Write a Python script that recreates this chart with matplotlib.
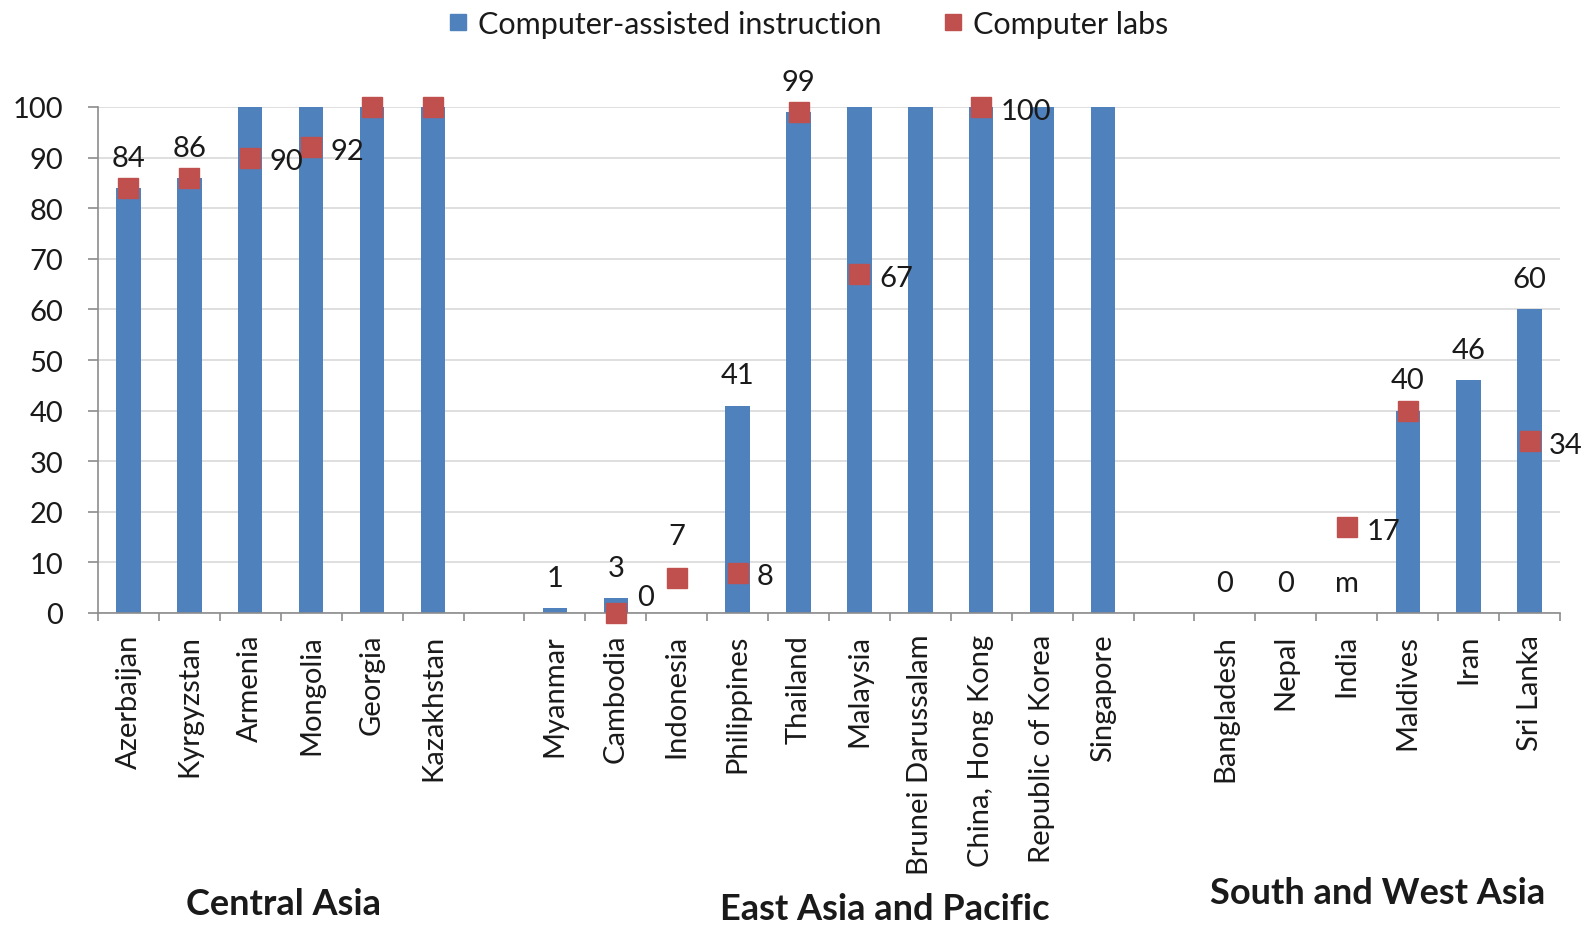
import numpy as np
import matplotlib
matplotlib.use("Agg")
import matplotlib.pyplot as plt
from matplotlib.lines import Line2D

plt.rcParams["font.family"] = ["Lato", "DejaVu Sans"]

# Countries, with an empty slot between regions
countries = ["Azerbaijan", "Kyrgyzstan", "Armenia", "Mongolia", "Georgia", "Kazakhstan",
             "",
             "Myanmar", "Cambodia", "Indonesia", "Philippines", "Thailand", "Malaysia",
             "Brunei Darussalam", "China, Hong Kong", "Republic of Korea", "Singapore",
             "",
             "Bangladesh", "Nepal", "India", "Maldives", "Iran", "Sri Lanka"]

nan = np.nan
# Share of schools with computer-assisted instruction (%)
cai = [84, 86, 100, 100, 100, 100,
       nan,
       1, 3, nan, 41, 99, 100, 100, 100, 100, 100,
       nan,
       0, 0, nan, 40, 46, 60]
# Share of schools with computer labs (%)
labs = [84, 86, 90, 92, 100, 100,
        nan,
        nan, 0, 7, 8, 99, 67, nan, 100, nan, nan,
        nan,
        nan, nan, 17, 40, nan, 34]

# Value labels shown above the bars ("m" = missing)
bar_labels = ["84", "86", None, None, None, None,
              None,
              "1", "3", None, "41", "99", None, None, None, None, None,
              None,
              "0", "0", "m", "40", "46", "60"]
# Value labels shown next to the lab markers
lab_labels = [None, None, "90", "92", None, None,
              None,
              None, "0", "7", "8", None, "67", None, "100", None, None,
              None,
              None, None, "17", None, None, "34"]
lab_label_side = [None, None, "right", "right", None, None,
                  None,
                  None, "upright", "above", "right", None, "right", None, "right", None, None,
                  None,
                  None, None, "right", None, None, "right"]

regions = ["Central Asia", "East Asia and Pacific", "South and West Asia"]

BLUE = "#4F81BD"
RED = "#C0504D"
TXT = "#1a1a1a"
AXC = "#8C8C8C"
W, H = 1594, 928

fig = plt.figure(figsize=(W / 100, H / 100), dpi=100)
ax = fig.add_axes([98 / W, (H - 614) / H, (1560 - 98) / W, (614 - 108) / H])

x = np.arange(len(countries))
cai_arr = np.array(cai, dtype=float)
labs_arr = np.array(labs, dtype=float)

ok = ~np.isnan(cai_arr)
ax.bar(x[ok], cai_arr[ok], width=0.4, color=BLUE, zorder=2)
ax.plot(x, labs_arr, ls="none", marker="s", ms=15, color=RED, mec=RED,
        zorder=3, clip_on=False)

ax.set_xlim(-0.5, len(countries) - 0.5)
ax.set_ylim(0, 100)
ax.set_yticks(np.arange(0, 101, 10))
ax.yaxis.grid(True, color="#D9D9D9", lw=1.2)
ax.set_axisbelow(True)

for s in ["top", "right"]:
    ax.spines[s].set_visible(False)
for s in ["left", "bottom"]:
    ax.spines[s].set_color(AXC)
    ax.spines[s].set_linewidth(1.2)

ax.tick_params(axis="y", length=7, width=1.2, color=AXC, pad=18,
               labelsize=21, labelcolor=TXT)

# Tick marks between categories, labels at category centres
ax.set_xticks(np.arange(-0.5, len(countries), 1))
ax.set_xticklabels([])
ax.set_xticks(x, minor=True)
ax.set_xticklabels(countries, minor=True, rotation=90, va="top", ha="center")
ax.tick_params(axis="x", which="major", length=6, width=1.2, color=AXC)
ax.tick_params(axis="x", which="minor", length=0, pad=15, labelsize=21,
               labelcolor=TXT)

lab_kw = dict(fontsize=21, color=TXT, textcoords="offset points")
for xi, txt, v in zip(x, bar_labels, cai):
    if txt is None:
        continue
    base = 0 if np.isnan(v) else v
    ax.annotate(txt, (xi, base), xytext=(0, 16), ha="center", va="baseline",
                annotation_clip=False, **lab_kw)

for xi, txt, v, side in zip(x, lab_labels, labs, lab_label_side):
    if txt is None:
        continue
    if side == "right":
        off, ha = (14, -8.5), "left"
    elif side == "upright":
        off, ha = (15.5, 6), "left"
    else:
        off, ha = (0, 24.5), "center"
    ax.annotate(txt, (xi, v), xytext=off, ha=ha, va="baseline",
                annotation_clip=False, **lab_kw)

# Region captions under each group of countries
region_pos = [(283, 905), (885, 910), (1378, 894)]
for name, (px, py) in zip(regions, region_pos):
    fig.text(px / W, 1 - py / H, name, ha="center", va="center",
             fontsize=26, fontweight="bold", color=TXT)

handles = [Line2D([], [], ls="none", marker="s", ms=12, color=BLUE),
           Line2D([], [], ls="none", marker="s", ms=12, color=RED)]
fig.legend(handles, ["Computer-assisted instruction", "Computer labs"],
           loc="center", bbox_to_anchor=(808 / W, 1 - 25 / H), ncol=2,
           frameon=False, fontsize=22, handlelength=0.7, handletextpad=0.3,
           columnspacing=2.0, labelcolor=TXT)

fig.savefig("out.png", dpi=100)
